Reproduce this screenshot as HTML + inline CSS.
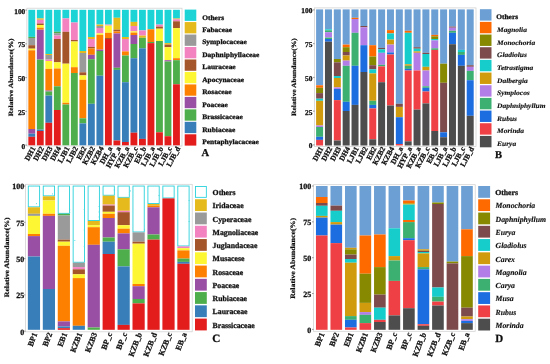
<!DOCTYPE html>
<html><head><meta charset="utf-8"><style>
html,body{margin:0;padding:0;background:#fff;width:550px;height:364px;overflow:hidden}
svg{display:block;will-change:transform}
text{font-family:"Liberation Serif", serif;text-rendering:geometricPrecision;stroke:#111;stroke-width:0.28px}
</style></head><body>
<svg width="550" height="364" viewBox="0 0 550 364">
<defs><filter id="bl" x="0" y="0" width="550" height="364" filterUnits="userSpaceOnUse"><feGaussianBlur stdDeviation="0.45"/></filter></defs>
<g filter="url(#bl)">
<rect x="0" y="0" width="550" height="364" fill="#fff"/>
<rect x="26.9" y="8.2" width="155.1" height="137.8" fill="none" stroke="#d0d0d0" stroke-width="0.75"/>
<rect x="28.35" y="9.8" width="6.85" height="27.1" fill="#1fd3d6"/>
<rect x="28.35" y="36.9" width="6.85" height="1.1" fill="#4eae4b"/>
<rect x="28.35" y="38" width="6.85" height="7.2" fill="#9a9a9a"/>
<rect x="28.35" y="45.2" width="6.85" height="3.5" fill="#a5552a"/>
<rect x="28.35" y="48.7" width="6.85" height="1.6" fill="#fdf632"/>
<rect x="28.35" y="50.3" width="6.85" height="78.7" fill="#fd8003"/>
<rect x="28.35" y="129" width="6.85" height="4.7" fill="#994fa4"/>
<rect x="28.35" y="133.7" width="6.85" height="3.1" fill="#387eb9"/>
<rect x="28.35" y="136.8" width="6.85" height="8.5" fill="#e31b1d"/>
<text x="0" y="0" transform="translate(35.78,148.3) rotate(-62)" text-anchor="end" font-size="7.4" font-weight="bold" fill="#111">DH1</text>
<rect x="36.86" y="9.8" width="6.85" height="8.6" fill="#1fd3d6"/>
<rect x="36.86" y="18.4" width="6.85" height="1.4" fill="#e5ba1d"/>
<rect x="36.86" y="19.8" width="6.85" height="3.7" fill="#f282c0"/>
<rect x="36.86" y="23.5" width="6.85" height="1.5" fill="#a5552a"/>
<rect x="36.86" y="25" width="6.85" height="2.7" fill="#fdf632"/>
<rect x="36.86" y="27.7" width="6.85" height="2" fill="#fd8003"/>
<rect x="36.86" y="29.7" width="6.85" height="29.9" fill="#994fa4"/>
<rect x="36.86" y="59.6" width="6.85" height="70" fill="#4eae4b"/>
<rect x="36.86" y="129.6" width="6.85" height="1.4" fill="#387eb9"/>
<rect x="36.86" y="131" width="6.85" height="14.3" fill="#e31b1d"/>
<text x="0" y="0" transform="translate(44.29,148.3) rotate(-62)" text-anchor="end" font-size="7.4" font-weight="bold" fill="#111">DH2</text>
<rect x="45.37" y="9.8" width="6.85" height="44.2" fill="#1fd3d6"/>
<rect x="45.37" y="54" width="6.85" height="1" fill="#e5ba1d"/>
<rect x="45.37" y="55" width="6.85" height="4.6" fill="#9a9a9a"/>
<rect x="45.37" y="59.6" width="6.85" height="1.4" fill="#f282c0"/>
<rect x="45.37" y="61" width="6.85" height="7.9" fill="#fdf632"/>
<rect x="45.37" y="68.9" width="6.85" height="21.6" fill="#fd8003"/>
<rect x="45.37" y="90.5" width="6.85" height="1" fill="#994fa4"/>
<rect x="45.37" y="91.5" width="6.85" height="4.1" fill="#4eae4b"/>
<rect x="45.37" y="95.6" width="6.85" height="27.2" fill="#387eb9"/>
<rect x="45.37" y="122.8" width="6.85" height="22.5" fill="#e31b1d"/>
<text x="0" y="0" transform="translate(52.8,148.3) rotate(-62)" text-anchor="end" font-size="7.4" font-weight="bold" fill="#111">DH3</text>
<rect x="53.89" y="9.8" width="6.85" height="22" fill="#1fd3d6"/>
<rect x="53.89" y="31.8" width="6.85" height="1.4" fill="#4eae4b"/>
<rect x="53.89" y="33.2" width="6.85" height="2.3" fill="#9a9a9a"/>
<rect x="53.89" y="35.5" width="6.85" height="3.5" fill="#f282c0"/>
<rect x="53.89" y="39" width="6.85" height="23.3" fill="#a5552a"/>
<rect x="53.89" y="62.3" width="6.85" height="6.2" fill="#fdf632"/>
<rect x="53.89" y="68.5" width="6.85" height="17.8" fill="#fd8003"/>
<rect x="53.89" y="86.3" width="6.85" height="23.7" fill="#4eae4b"/>
<rect x="53.89" y="110" width="6.85" height="35.3" fill="#e31b1d"/>
<text x="0" y="0" transform="translate(61.31,148.3) rotate(-62)" text-anchor="end" font-size="7.4" font-weight="bold" fill="#111">DH4</text>
<rect x="62.4" y="9.8" width="6.85" height="8.6" fill="#1fd3d6"/>
<rect x="62.4" y="18.4" width="6.85" height="13.4" fill="#f282c0"/>
<rect x="62.4" y="31.8" width="6.85" height="31.9" fill="#a5552a"/>
<rect x="62.4" y="63.7" width="6.85" height="39.1" fill="#fdf632"/>
<rect x="62.4" y="102.8" width="6.85" height="1.7" fill="#fd8003"/>
<rect x="62.4" y="104.5" width="6.85" height="40.8" fill="#4eae4b"/>
<text x="0" y="0" transform="translate(69.82,148.3) rotate(-62)" text-anchor="end" font-size="7.4" font-weight="bold" fill="#111">LJB1</text>
<rect x="70.91" y="9.8" width="6.85" height="12.7" fill="#1fd3d6"/>
<rect x="70.91" y="22.5" width="6.85" height="17.5" fill="#f282c0"/>
<rect x="70.91" y="40" width="6.85" height="1.5" fill="#a5552a"/>
<rect x="70.91" y="41.5" width="6.85" height="25.7" fill="#fdf632"/>
<rect x="70.91" y="67.2" width="6.85" height="5.8" fill="#fd8003"/>
<rect x="70.91" y="73" width="6.85" height="72.3" fill="#4eae4b"/>
<text x="0" y="0" transform="translate(78.33,148.3) rotate(-62)" text-anchor="end" font-size="7.4" font-weight="bold" fill="#111">LJB2</text>
<rect x="79.42" y="9.8" width="6.85" height="41.2" fill="#1fd3d6"/>
<rect x="79.42" y="51" width="6.85" height="2" fill="#e5ba1d"/>
<rect x="79.42" y="53" width="6.85" height="19.3" fill="#9a9a9a"/>
<rect x="79.42" y="72.3" width="6.85" height="3.1" fill="#a5552a"/>
<rect x="79.42" y="75.4" width="6.85" height="4.4" fill="#fdf632"/>
<rect x="79.42" y="79.8" width="6.85" height="38.5" fill="#fd8003"/>
<rect x="79.42" y="118.3" width="6.85" height="5.1" fill="#4eae4b"/>
<rect x="79.42" y="123.4" width="6.85" height="21.9" fill="#387eb9"/>
<text x="0" y="0" transform="translate(86.85,148.3) rotate(-62)" text-anchor="end" font-size="7.4" font-weight="bold" fill="#111">EB2</text>
<rect x="87.93" y="9.8" width="6.85" height="27.2" fill="#1fd3d6"/>
<rect x="87.93" y="37" width="6.85" height="2" fill="#e5ba1d"/>
<rect x="87.93" y="39" width="6.85" height="7.9" fill="#f282c0"/>
<rect x="87.93" y="46.9" width="6.85" height="1.6" fill="#a5552a"/>
<rect x="87.93" y="48.5" width="6.85" height="6.3" fill="#fd8003"/>
<rect x="87.93" y="54.8" width="6.85" height="4.4" fill="#994fa4"/>
<rect x="87.93" y="59.2" width="6.85" height="44.6" fill="#4eae4b"/>
<rect x="87.93" y="103.8" width="6.85" height="41.5" fill="#387eb9"/>
<text x="0" y="0" transform="translate(95.36,148.3) rotate(-62)" text-anchor="end" font-size="7.4" font-weight="bold" fill="#111">KZB2</text>
<rect x="96.45" y="9.8" width="6.85" height="14.8" fill="#1fd3d6"/>
<rect x="96.45" y="24.6" width="6.85" height="1.4" fill="#e5ba1d"/>
<rect x="96.45" y="26" width="6.85" height="2" fill="#9a9a9a"/>
<rect x="96.45" y="28" width="6.85" height="5.4" fill="#f282c0"/>
<rect x="96.45" y="33.4" width="6.85" height="1.5" fill="#fdf632"/>
<rect x="96.45" y="34.9" width="6.85" height="14.7" fill="#fd8003"/>
<rect x="96.45" y="49.6" width="6.85" height="1.4" fill="#994fa4"/>
<rect x="96.45" y="51" width="6.85" height="24.7" fill="#4eae4b"/>
<rect x="96.45" y="75.7" width="6.85" height="69.6" fill="#387eb9"/>
<text x="0" y="0" transform="translate(103.87,148.3) rotate(-62)" text-anchor="end" font-size="7.4" font-weight="bold" fill="#111">KZB4</text>
<rect x="104.96" y="9.8" width="6.85" height="14.8" fill="#1fd3d6"/>
<rect x="104.96" y="24.6" width="6.85" height="1" fill="#f282c0"/>
<rect x="104.96" y="25.6" width="6.85" height="7.2" fill="#fdf632"/>
<rect x="104.96" y="32.8" width="6.85" height="5.2" fill="#fd8003"/>
<rect x="104.96" y="38" width="6.85" height="1" fill="#a5552a"/>
<rect x="104.96" y="39" width="6.85" height="106.3" fill="#e31b1d"/>
<text x="0" y="0" transform="translate(112.38,148.3) rotate(-62)" text-anchor="end" font-size="7.4" font-weight="bold" fill="#111">DH_a</text>
<rect x="113.47" y="9.8" width="6.85" height="8" fill="#1fd3d6"/>
<rect x="113.47" y="17.8" width="6.85" height="11.9" fill="#e5ba1d"/>
<rect x="113.47" y="29.7" width="6.85" height="1.7" fill="#a5552a"/>
<rect x="113.47" y="31.4" width="6.85" height="2" fill="#fd8003"/>
<rect x="113.47" y="33.4" width="6.85" height="34.4" fill="#994fa4"/>
<rect x="113.47" y="67.8" width="6.85" height="2.1" fill="#4eae4b"/>
<rect x="113.47" y="69.9" width="6.85" height="70.6" fill="#387eb9"/>
<rect x="113.47" y="140.5" width="6.85" height="4.8" fill="#e31b1d"/>
<text x="0" y="0" transform="translate(120.89,148.3) rotate(-62)" text-anchor="end" font-size="7.4" font-weight="bold" fill="#111">HYP_a</text>
<rect x="121.98" y="9.8" width="6.85" height="27.2" fill="#1fd3d6"/>
<rect x="121.98" y="37" width="6.85" height="2" fill="#e5ba1d"/>
<rect x="121.98" y="39" width="6.85" height="12.4" fill="#f282c0"/>
<rect x="121.98" y="51.4" width="6.85" height="4.1" fill="#fd8003"/>
<rect x="121.98" y="55.5" width="6.85" height="26.7" fill="#4eae4b"/>
<rect x="121.98" y="82.2" width="6.85" height="59.8" fill="#387eb9"/>
<rect x="121.98" y="142" width="6.85" height="3.3" fill="#e31b1d"/>
<text x="0" y="0" transform="translate(129.41,148.3) rotate(-62)" text-anchor="end" font-size="7.4" font-weight="bold" fill="#111">KZB_a</text>
<rect x="130.49" y="9.8" width="6.85" height="12.1" fill="#1fd3d6"/>
<rect x="130.49" y="21.9" width="6.85" height="4.1" fill="#e5ba1d"/>
<rect x="130.49" y="26" width="6.85" height="5.3" fill="#f282c0"/>
<rect x="130.49" y="31.3" width="6.85" height="1.3" fill="#fdf632"/>
<rect x="130.49" y="32.6" width="6.85" height="2.4" fill="#fd8003"/>
<rect x="130.49" y="35" width="6.85" height="9" fill="#994fa4"/>
<rect x="130.49" y="44" width="6.85" height="14.2" fill="#4eae4b"/>
<rect x="130.49" y="58.2" width="6.85" height="74.5" fill="#387eb9"/>
<rect x="130.49" y="132.7" width="6.85" height="12.6" fill="#e31b1d"/>
<text x="0" y="0" transform="translate(137.92,148.3) rotate(-62)" text-anchor="end" font-size="7.4" font-weight="bold" fill="#111">KZB_c</text>
<rect x="139.01" y="9.8" width="6.85" height="20.6" fill="#1fd3d6"/>
<rect x="139.01" y="30.4" width="6.85" height="5.2" fill="#f282c0"/>
<rect x="139.01" y="35.6" width="6.85" height="2.2" fill="#e5ba1d"/>
<rect x="139.01" y="37.8" width="6.85" height="10.5" fill="#4eae4b"/>
<rect x="139.01" y="48.3" width="6.85" height="90.6" fill="#387eb9"/>
<rect x="139.01" y="138.9" width="6.85" height="6.4" fill="#e31b1d"/>
<text x="0" y="0" transform="translate(146.43,148.3) rotate(-62)" text-anchor="end" font-size="7.4" font-weight="bold" fill="#111">EB_b</text>
<rect x="147.52" y="9.8" width="6.85" height="19.5" fill="#1fd3d6"/>
<rect x="147.52" y="29.3" width="6.85" height="12.7" fill="#fd8003"/>
<rect x="147.52" y="42" width="6.85" height="1.1" fill="#4eae4b"/>
<rect x="147.52" y="43.1" width="6.85" height="102.2" fill="#e31b1d"/>
<text x="0" y="0" transform="translate(154.94,148.3) rotate(-62)" text-anchor="end" font-size="7.4" font-weight="bold" fill="#111">LJB_a</text>
<rect x="156.03" y="9.8" width="6.85" height="14.8" fill="#1fd3d6"/>
<rect x="156.03" y="24.6" width="6.85" height="2" fill="#f282c0"/>
<rect x="156.03" y="26.6" width="6.85" height="2.1" fill="#a5552a"/>
<rect x="156.03" y="28.7" width="6.85" height="12.3" fill="#fdf632"/>
<rect x="156.03" y="41" width="6.85" height="91.3" fill="#4eae4b"/>
<rect x="156.03" y="132.3" width="6.85" height="13" fill="#e31b1d"/>
<text x="0" y="0" transform="translate(163.46,148.3) rotate(-62)" text-anchor="end" font-size="7.4" font-weight="bold" fill="#111">LJB_b</text>
<rect x="164.54" y="9.8" width="6.85" height="33.3" fill="#1fd3d6"/>
<rect x="164.54" y="43.1" width="6.85" height="1.5" fill="#e5ba1d"/>
<rect x="164.54" y="44.6" width="6.85" height="2.6" fill="#a5552a"/>
<rect x="164.54" y="47.2" width="6.85" height="13" fill="#fdf632"/>
<rect x="164.54" y="60.2" width="6.85" height="1.3" fill="#994fa4"/>
<rect x="164.54" y="61.5" width="6.85" height="74.7" fill="#4eae4b"/>
<rect x="164.54" y="136.2" width="6.85" height="9.1" fill="#e31b1d"/>
<text x="0" y="0" transform="translate(171.97,148.3) rotate(-62)" text-anchor="end" font-size="7.4" font-weight="bold" fill="#111">LJB_c</text>
<rect x="173.05" y="9.8" width="6.85" height="8.7" fill="#1fd3d6"/>
<rect x="173.05" y="18.5" width="6.85" height="0.8" fill="#e5ba1d"/>
<rect x="173.05" y="19.3" width="6.85" height="2" fill="#f282c0"/>
<rect x="173.05" y="21.3" width="6.85" height="6.8" fill="#a5552a"/>
<rect x="173.05" y="28.1" width="6.85" height="30.1" fill="#fdf632"/>
<rect x="173.05" y="58.2" width="6.85" height="2" fill="#fd8003"/>
<rect x="173.05" y="60.2" width="6.85" height="24.1" fill="#4eae4b"/>
<rect x="173.05" y="84.3" width="6.85" height="61" fill="#e31b1d"/>
<text x="0" y="0" transform="translate(180.48,148.3) rotate(-62)" text-anchor="end" font-size="7.4" font-weight="bold" fill="#111">LJB_d</text>
<text x="25.3" y="148.5" text-anchor="end" font-size="7.4" font-weight="bold" fill="#111">0</text>
<line x1="25.3" y1="145.1" x2="26.9" y2="145.1" stroke="#555" stroke-width="0.6"/>
<text x="25.3" y="114.75" text-anchor="end" font-size="7.4" font-weight="bold" fill="#111">25</text>
<line x1="25.3" y1="111.35" x2="26.9" y2="111.35" stroke="#555" stroke-width="0.6"/>
<text x="25.3" y="81" text-anchor="end" font-size="7.4" font-weight="bold" fill="#111">50</text>
<line x1="25.3" y1="77.6" x2="26.9" y2="77.6" stroke="#555" stroke-width="0.6"/>
<text x="25.3" y="47.25" text-anchor="end" font-size="7.4" font-weight="bold" fill="#111">75</text>
<line x1="25.3" y1="43.85" x2="26.9" y2="43.85" stroke="#555" stroke-width="0.6"/>
<text x="25.3" y="13.5" text-anchor="end" font-size="7.4" font-weight="bold" fill="#111">100</text>
<line x1="25.3" y1="10.1" x2="26.9" y2="10.1" stroke="#555" stroke-width="0.6"/>
<text x="0" y="0" transform="translate(13.4,77.4) rotate(-90) scale(1,0.86)" text-anchor="middle" font-size="7.6" font-weight="bold" fill="#111" style="stroke-width:0.24px">Relative Abundance(%)</text>
<rect x="184.7" y="9.6" width="11.6" height="11.3" fill="#1fd3d6"/>
<text x="0" y="0" transform="translate(202.2,19.55) scale(1.08,1)" font-size="6.9" font-weight="bold" fill="#111">Others</text>
<rect x="184.7" y="22.07" width="11.6" height="11.3" fill="#e5ba1d"/>
<text x="0" y="0" transform="translate(202.2,32.02) scale(1.08,1)" font-size="6.9" font-weight="bold" fill="#111">Fabaceae</text>
<rect x="184.7" y="34.54" width="11.6" height="11.3" fill="#9a9a9a"/>
<text x="0" y="0" transform="translate(202.2,44.49) scale(1.08,1)" font-size="6.9" font-weight="bold" fill="#111">Symplocaceae</text>
<rect x="184.7" y="47.01" width="11.6" height="11.3" fill="#f282c0"/>
<text x="0" y="0" transform="translate(202.2,56.96) scale(1.08,1)" font-size="6.9" font-weight="bold" fill="#111">Daphniphyllaceae</text>
<rect x="184.7" y="59.48" width="11.6" height="11.3" fill="#a5552a"/>
<text x="0" y="0" transform="translate(202.2,69.43) scale(1.08,1)" font-size="6.9" font-weight="bold" fill="#111">Lauraceae</text>
<rect x="184.7" y="71.95" width="11.6" height="11.3" fill="#fdf632"/>
<text x="0" y="0" transform="translate(202.2,81.9) scale(1.08,1)" font-size="6.9" font-weight="bold" fill="#111">Apocynaceae</text>
<rect x="184.7" y="84.42" width="11.6" height="11.3" fill="#fd8003"/>
<text x="0" y="0" transform="translate(202.2,94.37) scale(1.08,1)" font-size="6.9" font-weight="bold" fill="#111">Rosaceae</text>
<rect x="184.7" y="96.89" width="11.6" height="11.3" fill="#994fa4"/>
<text x="0" y="0" transform="translate(202.2,106.84) scale(1.08,1)" font-size="6.9" font-weight="bold" fill="#111">Poaceae</text>
<rect x="184.7" y="109.36" width="11.6" height="11.3" fill="#4eae4b"/>
<text x="0" y="0" transform="translate(202.2,119.31) scale(1.08,1)" font-size="6.9" font-weight="bold" fill="#111">Brassicaceae</text>
<rect x="184.7" y="121.83" width="11.6" height="11.3" fill="#387eb9"/>
<text x="0" y="0" transform="translate(202.2,131.78) scale(1.08,1)" font-size="6.9" font-weight="bold" fill="#111">Rubiaceae</text>
<rect x="184.7" y="134.3" width="11.6" height="11.3" fill="#e31b1d"/>
<text x="0" y="0" transform="translate(202.2,144.25) scale(1.08,1)" font-size="6.9" font-weight="bold" fill="#111">Pentaphylacaceae</text>
<text x="201.6" y="156.2" font-size="10.5" font-weight="bold" fill="#111">A</text>
<rect x="314.6" y="7.9" width="161.4" height="138.5" fill="none" stroke="#d0d0d0" stroke-width="0.75"/>
<rect x="316.1" y="9.4" width="7" height="75.9" fill="#6c9fd4"/>
<rect x="316.1" y="85.3" width="7" height="2.5" fill="#fe6a02"/>
<rect x="316.1" y="87.8" width="7" height="5.3" fill="#878a05"/>
<rect x="316.1" y="93.1" width="7" height="5.6" fill="#7e4c4e"/>
<rect x="316.1" y="98.7" width="7" height="2.1" fill="#12cdcc"/>
<rect x="316.1" y="100.8" width="7" height="24.7" fill="#d09b0c"/>
<rect x="316.1" y="125.5" width="7" height="1.5" fill="#b27de6"/>
<rect x="316.1" y="127" width="7" height="9.8" fill="#3ab070"/>
<rect x="316.1" y="136.8" width="7" height="3.1" fill="#1f6de0"/>
<rect x="316.1" y="139.9" width="7" height="5.6" fill="#ef4144"/>
<text x="0" y="0" transform="translate(323.6,148.5) rotate(-62)" text-anchor="end" font-size="7.4" font-weight="bold" fill="#111">DH1</text>
<rect x="324.96" y="9.4" width="7" height="19.9" fill="#6c9fd4"/>
<rect x="324.96" y="29.3" width="7" height="1" fill="#12cdcc"/>
<rect x="324.96" y="30.3" width="7" height="1.9" fill="#3ab070"/>
<rect x="324.96" y="32.2" width="7" height="5.4" fill="#b27de6"/>
<rect x="324.96" y="37.6" width="7" height="1.4" fill="#3ab070"/>
<rect x="324.96" y="39" width="7" height="2.7" fill="#1f6de0"/>
<rect x="324.96" y="41.7" width="7" height="103.8" fill="#4e4e4e"/>
<text x="0" y="0" transform="translate(332.46,148.5) rotate(-62)" text-anchor="end" font-size="7.4" font-weight="bold" fill="#111">DH2</text>
<rect x="333.82" y="9.4" width="7" height="49.6" fill="#6c9fd4"/>
<rect x="333.82" y="59" width="7" height="3.3" fill="#878a05"/>
<rect x="333.82" y="62.3" width="7" height="13.7" fill="#7e4c4e"/>
<rect x="333.82" y="76" width="7" height="2" fill="#12cdcc"/>
<rect x="333.82" y="78" width="7" height="9.4" fill="#d09b0c"/>
<rect x="333.82" y="87.4" width="7" height="1.6" fill="#b27de6"/>
<rect x="333.82" y="89" width="7" height="11.1" fill="#1f6de0"/>
<rect x="333.82" y="100.1" width="7" height="40.4" fill="#ef4144"/>
<rect x="333.82" y="140.5" width="7" height="5" fill="#4e4e4e"/>
<text x="0" y="0" transform="translate(341.32,148.5) rotate(-62)" text-anchor="end" font-size="7.4" font-weight="bold" fill="#111">DH3</text>
<rect x="342.67" y="9.4" width="7" height="35.2" fill="#6c9fd4"/>
<rect x="342.67" y="44.6" width="7" height="2.6" fill="#fe6a02"/>
<rect x="342.67" y="47.2" width="7" height="4.8" fill="#878a05"/>
<rect x="342.67" y="52" width="7" height="3.5" fill="#7e4c4e"/>
<rect x="342.67" y="55.5" width="7" height="5.1" fill="#d09b0c"/>
<rect x="342.67" y="60.6" width="7" height="5.2" fill="#b27de6"/>
<rect x="342.67" y="65.8" width="7" height="36" fill="#3ab070"/>
<rect x="342.67" y="101.8" width="7" height="9.2" fill="#1f6de0"/>
<rect x="342.67" y="111" width="7" height="34.5" fill="#4e4e4e"/>
<text x="0" y="0" transform="translate(350.17,148.5) rotate(-62)" text-anchor="end" font-size="7.4" font-weight="bold" fill="#111">DH4</text>
<rect x="351.53" y="9.4" width="7" height="8.4" fill="#6c9fd4"/>
<rect x="351.53" y="17.8" width="7" height="1.2" fill="#fe6a02"/>
<rect x="351.53" y="19" width="7" height="13.8" fill="#b27de6"/>
<rect x="351.53" y="32.8" width="7" height="33" fill="#3ab070"/>
<rect x="351.53" y="65.8" width="7" height="39.1" fill="#1f6de0"/>
<rect x="351.53" y="104.9" width="7" height="40.6" fill="#4e4e4e"/>
<text x="0" y="0" transform="translate(359.03,148.5) rotate(-62)" text-anchor="end" font-size="7.4" font-weight="bold" fill="#111">LJB1</text>
<rect x="360.39" y="9.4" width="7" height="16.6" fill="#6c9fd4"/>
<rect x="360.39" y="26" width="7" height="1.3" fill="#7e4c4e"/>
<rect x="360.39" y="27.3" width="7" height="17.9" fill="#b27de6"/>
<rect x="360.39" y="45.2" width="7" height="26.8" fill="#1f6de0"/>
<rect x="360.39" y="72" width="7" height="73.5" fill="#4e4e4e"/>
<text x="0" y="0" transform="translate(367.89,148.5) rotate(-62)" text-anchor="end" font-size="7.4" font-weight="bold" fill="#111">LJB2</text>
<rect x="369.25" y="9.4" width="7" height="35.8" fill="#6c9fd4"/>
<rect x="369.25" y="45.2" width="7" height="11.3" fill="#fe6a02"/>
<rect x="369.25" y="56.5" width="7" height="8.7" fill="#878a05"/>
<rect x="369.25" y="65.2" width="7" height="4.1" fill="#7e4c4e"/>
<rect x="369.25" y="69.3" width="7" height="4.1" fill="#12cdcc"/>
<rect x="369.25" y="73.4" width="7" height="27.4" fill="#d09b0c"/>
<rect x="369.25" y="100.8" width="7" height="4.1" fill="#3ab070"/>
<rect x="369.25" y="104.9" width="7" height="3.5" fill="#1f6de0"/>
<rect x="369.25" y="108.4" width="7" height="30.9" fill="#ef4144"/>
<rect x="369.25" y="139.3" width="7" height="6.2" fill="#4e4e4e"/>
<text x="0" y="0" transform="translate(376.75,148.5) rotate(-62)" text-anchor="end" font-size="7.4" font-weight="bold" fill="#111">EB2</text>
<rect x="378.11" y="9.4" width="7" height="38.5" fill="#6c9fd4"/>
<rect x="378.11" y="47.9" width="7" height="1.4" fill="#7e4c4e"/>
<rect x="378.11" y="49.3" width="7" height="3.5" fill="#12cdcc"/>
<rect x="378.11" y="52.8" width="7" height="12" fill="#b27de6"/>
<rect x="378.11" y="64.8" width="7" height="1.6" fill="#3ab070"/>
<rect x="378.11" y="66.4" width="7" height="15.8" fill="#ef4144"/>
<rect x="378.11" y="82.2" width="7" height="63.3" fill="#4e4e4e"/>
<text x="0" y="0" transform="translate(385.61,148.5) rotate(-62)" text-anchor="end" font-size="7.4" font-weight="bold" fill="#111">KZB2</text>
<rect x="386.96" y="9.4" width="7" height="20.7" fill="#6c9fd4"/>
<rect x="386.96" y="30.1" width="7" height="3.3" fill="#fe6a02"/>
<rect x="386.96" y="33.4" width="7" height="6.2" fill="#12cdcc"/>
<rect x="386.96" y="39.6" width="7" height="5" fill="#d09b0c"/>
<rect x="386.96" y="44.6" width="7" height="7.8" fill="#b27de6"/>
<rect x="386.96" y="52.4" width="7" height="2.1" fill="#1f6de0"/>
<rect x="386.96" y="54.5" width="7" height="51" fill="#ef4144"/>
<rect x="386.96" y="105.5" width="7" height="40" fill="#4e4e4e"/>
<text x="0" y="0" transform="translate(394.46,148.5) rotate(-62)" text-anchor="end" font-size="7.4" font-weight="bold" fill="#111">KZB4</text>
<rect x="395.82" y="9.4" width="7" height="94.4" fill="#6c9fd4"/>
<rect x="395.82" y="103.8" width="7" height="3.1" fill="#7e4c4e"/>
<rect x="395.82" y="106.9" width="7" height="10.3" fill="#d09b0c"/>
<rect x="395.82" y="117.2" width="7" height="26.8" fill="#1f6de0"/>
<rect x="395.82" y="144" width="7" height="1.5" fill="#ef4144"/>
<text x="0" y="0" transform="translate(403.32,148.5) rotate(-62)" text-anchor="end" font-size="7.4" font-weight="bold" fill="#111">DH_a</text>
<rect x="404.68" y="9.4" width="7" height="21.4" fill="#6c9fd4"/>
<rect x="404.68" y="30.8" width="7" height="2" fill="#fe6a02"/>
<rect x="404.68" y="32.8" width="7" height="31.5" fill="#12cdcc"/>
<rect x="404.68" y="64.3" width="7" height="1.5" fill="#d09b0c"/>
<rect x="404.68" y="65.8" width="7" height="3.1" fill="#3ab070"/>
<rect x="404.68" y="68.9" width="7" height="1.6" fill="#1f6de0"/>
<rect x="404.68" y="70.5" width="7" height="70.8" fill="#ef4144"/>
<rect x="404.68" y="141.3" width="7" height="4.2" fill="#4e4e4e"/>
<text x="0" y="0" transform="translate(412.18,148.5) rotate(-62)" text-anchor="end" font-size="7.4" font-weight="bold" fill="#111">HYP_a</text>
<rect x="413.54" y="9.4" width="7" height="37.8" fill="#6c9fd4"/>
<rect x="413.54" y="47.2" width="7" height="1.5" fill="#7e4c4e"/>
<rect x="413.54" y="48.7" width="7" height="2.7" fill="#12cdcc"/>
<rect x="413.54" y="51.4" width="7" height="1.4" fill="#d09b0c"/>
<rect x="413.54" y="52.8" width="7" height="17.7" fill="#b27de6"/>
<rect x="413.54" y="70.5" width="7" height="39.1" fill="#ef4144"/>
<rect x="413.54" y="109.6" width="7" height="35.9" fill="#4e4e4e"/>
<text x="0" y="0" transform="translate(421.04,148.5) rotate(-62)" text-anchor="end" font-size="7.4" font-weight="bold" fill="#111">KZB_a</text>
<rect x="422.4" y="9.4" width="7" height="43.4" fill="#6c9fd4"/>
<rect x="422.4" y="52.8" width="7" height="1.2" fill="#7e4c4e"/>
<rect x="422.4" y="54" width="7" height="12.8" fill="#12cdcc"/>
<rect x="422.4" y="66.8" width="7" height="3.7" fill="#d09b0c"/>
<rect x="422.4" y="70.5" width="7" height="15.8" fill="#b27de6"/>
<rect x="422.4" y="86.3" width="7" height="1.5" fill="#3ab070"/>
<rect x="422.4" y="87.8" width="7" height="3.7" fill="#1f6de0"/>
<rect x="422.4" y="91.5" width="7" height="11.9" fill="#ef4144"/>
<rect x="422.4" y="103.4" width="7" height="42.1" fill="#4e4e4e"/>
<text x="0" y="0" transform="translate(429.9,148.5) rotate(-62)" text-anchor="end" font-size="7.4" font-weight="bold" fill="#111">KZB_c</text>
<rect x="431.25" y="9.4" width="7" height="25.5" fill="#6c9fd4"/>
<rect x="431.25" y="34.9" width="7" height="1.4" fill="#fe6a02"/>
<rect x="431.25" y="36.3" width="7" height="2.7" fill="#878a05"/>
<rect x="431.25" y="39" width="7" height="1.4" fill="#12cdcc"/>
<rect x="431.25" y="40.4" width="7" height="7.9" fill="#b27de6"/>
<rect x="431.25" y="48.3" width="7" height="1.6" fill="#3ab070"/>
<rect x="431.25" y="49.9" width="7" height="81.1" fill="#ef4144"/>
<rect x="431.25" y="131" width="7" height="14.5" fill="#4e4e4e"/>
<text x="0" y="0" transform="translate(438.75,148.5) rotate(-62)" text-anchor="end" font-size="7.4" font-weight="bold" fill="#111">EB_b</text>
<rect x="440.11" y="9.4" width="7" height="54.3" fill="#6c9fd4"/>
<rect x="440.11" y="63.7" width="7" height="19.1" fill="#878a05"/>
<rect x="440.11" y="82.8" width="7" height="49.5" fill="#7e4c4e"/>
<rect x="440.11" y="132.3" width="7" height="4.9" fill="#1f6de0"/>
<rect x="440.11" y="137.2" width="7" height="8.3" fill="#4e4e4e"/>
<text x="0" y="0" transform="translate(447.61,148.5) rotate(-62)" text-anchor="end" font-size="7.4" font-weight="bold" fill="#111">LJB_a</text>
<rect x="448.97" y="9.4" width="7" height="17.2" fill="#6c9fd4"/>
<rect x="448.97" y="26.6" width="7" height="1.1" fill="#7e4c4e"/>
<rect x="448.97" y="27.7" width="7" height="3.1" fill="#b27de6"/>
<rect x="448.97" y="30.8" width="7" height="2" fill="#3ab070"/>
<rect x="448.97" y="32.8" width="7" height="11.4" fill="#1f6de0"/>
<rect x="448.97" y="44.2" width="7" height="101.3" fill="#4e4e4e"/>
<text x="0" y="0" transform="translate(456.47,148.5) rotate(-62)" text-anchor="end" font-size="7.4" font-weight="bold" fill="#111">LJB_b</text>
<rect x="457.83" y="9.4" width="7" height="40.5" fill="#6c9fd4"/>
<rect x="457.83" y="49.9" width="7" height="2.1" fill="#12cdcc"/>
<rect x="457.83" y="52" width="7" height="2.9" fill="#3ab070"/>
<rect x="457.83" y="54.9" width="7" height="10.9" fill="#1f6de0"/>
<rect x="457.83" y="65.8" width="7" height="79.7" fill="#4e4e4e"/>
<text x="0" y="0" transform="translate(465.33,148.5) rotate(-62)" text-anchor="end" font-size="7.4" font-weight="bold" fill="#111">LJB_c</text>
<rect x="466.69" y="9.4" width="7" height="55.8" fill="#6c9fd4"/>
<rect x="466.69" y="65.2" width="7" height="1.6" fill="#7e4c4e"/>
<rect x="466.69" y="66.8" width="7" height="4.1" fill="#b27de6"/>
<rect x="466.69" y="70.9" width="7" height="9.3" fill="#3ab070"/>
<rect x="466.69" y="80.2" width="7" height="35.6" fill="#1f6de0"/>
<rect x="466.69" y="115.8" width="7" height="29.7" fill="#4e4e4e"/>
<text x="0" y="0" transform="translate(474.19,148.5) rotate(-62)" text-anchor="end" font-size="7.4" font-weight="bold" fill="#111">LJB_d</text>
<text x="312.4" y="148.3" text-anchor="end" font-size="7.4" font-weight="bold" fill="#111">0</text>
<line x1="313" y1="144.9" x2="314.6" y2="144.9" stroke="#555" stroke-width="0.6"/>
<text x="312.4" y="114.55" text-anchor="end" font-size="7.4" font-weight="bold" fill="#111">25</text>
<line x1="313" y1="111.15" x2="314.6" y2="111.15" stroke="#555" stroke-width="0.6"/>
<text x="312.4" y="80.8" text-anchor="end" font-size="7.4" font-weight="bold" fill="#111">50</text>
<line x1="313" y1="77.4" x2="314.6" y2="77.4" stroke="#555" stroke-width="0.6"/>
<text x="312.4" y="47.05" text-anchor="end" font-size="7.4" font-weight="bold" fill="#111">75</text>
<line x1="313" y1="43.65" x2="314.6" y2="43.65" stroke="#555" stroke-width="0.6"/>
<text x="312.4" y="13.3" text-anchor="end" font-size="7.4" font-weight="bold" fill="#111">100</text>
<line x1="313" y1="9.9" x2="314.6" y2="9.9" stroke="#555" stroke-width="0.6"/>
<text x="0" y="0" transform="translate(296.3,77.1) rotate(-90) scale(1,0.86)" text-anchor="middle" font-size="7.6" font-weight="bold" fill="#111" style="stroke-width:0.24px">Relative Abundance(%)</text>
<rect x="479.9" y="9.2" width="11.6" height="11.4" fill="#6c9fd4"/>
<text x="0" y="0" transform="translate(496.2,19.2) scale(1.08,1)" font-size="6.9" font-weight="bold" fill="#111">Others</text>
<rect x="479.9" y="21.87" width="11.6" height="11.4" fill="#fe6a02"/>
<text x="0" y="0" transform="translate(497.1,31.87) scale(1.08,1)" font-size="6.9" font-weight="bold" font-style="italic" style="stroke-width:0.15px" fill="#111">Magnolia</text>
<rect x="479.9" y="34.54" width="11.6" height="11.4" fill="#878a05"/>
<text x="0" y="0" transform="translate(497.1,44.54) scale(1.08,1)" font-size="6.9" font-weight="bold" font-style="italic" style="stroke-width:0.15px" fill="#111">Monochoria</text>
<rect x="479.9" y="47.21" width="11.6" height="11.4" fill="#7e4c4e"/>
<text x="0" y="0" transform="translate(497.1,57.21) scale(1.08,1)" font-size="6.9" font-weight="bold" font-style="italic" style="stroke-width:0.15px" fill="#111">Gladiolus</text>
<rect x="479.9" y="59.88" width="11.6" height="11.4" fill="#12cdcc"/>
<text x="0" y="0" transform="translate(497.1,69.88) scale(1.08,1)" font-size="6.9" font-weight="bold" font-style="italic" style="stroke-width:0.15px" fill="#111">Tetrastigma</text>
<rect x="479.9" y="72.55" width="11.6" height="11.4" fill="#d09b0c"/>
<text x="0" y="0" transform="translate(497.1,82.55) scale(1.08,1)" font-size="6.9" font-weight="bold" font-style="italic" style="stroke-width:0.15px" fill="#111">Dalbergia</text>
<rect x="479.9" y="85.22" width="11.6" height="11.4" fill="#b27de6"/>
<text x="0" y="0" transform="translate(497.1,95.22) scale(1.08,1)" font-size="6.9" font-weight="bold" font-style="italic" style="stroke-width:0.15px" fill="#111">Symplocos</text>
<rect x="479.9" y="97.89" width="11.6" height="11.4" fill="#3ab070"/>
<text x="0" y="0" transform="translate(497.1,107.89) scale(1.08,1)" font-size="6.9" font-weight="bold" font-style="italic" style="stroke-width:0.15px" fill="#111">Daphniphyllum</text>
<rect x="479.9" y="110.56" width="11.6" height="11.4" fill="#1f6de0"/>
<text x="0" y="0" transform="translate(497.1,120.56) scale(1.08,1)" font-size="6.9" font-weight="bold" font-style="italic" style="stroke-width:0.15px" fill="#111">Rubus</text>
<rect x="479.9" y="123.23" width="11.6" height="11.4" fill="#ef4144"/>
<text x="0" y="0" transform="translate(497.1,133.23) scale(1.08,1)" font-size="6.9" font-weight="bold" font-style="italic" style="stroke-width:0.15px" fill="#111">Morinda</text>
<rect x="479.9" y="135.9" width="11.6" height="11.4" fill="#4e4e4e"/>
<text x="0" y="0" transform="translate(497.1,145.9) scale(1.08,1)" font-size="6.9" font-weight="bold" font-style="italic" style="stroke-width:0.15px" fill="#111">Eurya</text>
<text x="495" y="158.3" font-size="10.5" font-weight="bold" fill="#111">B</text>
<rect x="25.4" y="184.3" width="166.8" height="147.5" fill="none" stroke="#d0d0d0" stroke-width="0.75"/>
<rect x="28.3" y="186.05" width="11.3" height="20.8" fill="#fff" stroke="#2ad2dc" stroke-width="0.9"/>
<rect x="27.85" y="207.3" width="12.2" height="6.5" fill="#e5ba1d"/>
<rect x="27.85" y="213.8" width="12.2" height="2.1" fill="#9a9a9a"/>
<rect x="27.85" y="215.9" width="12.2" height="18.1" fill="#fdf632"/>
<rect x="27.85" y="234" width="12.2" height="2.1" fill="#fd8003"/>
<rect x="27.85" y="236.1" width="12.2" height="20.4" fill="#994fa4"/>
<rect x="27.85" y="256.5" width="12.2" height="73.3" fill="#387eb9"/>
<text x="0" y="0" transform="translate(37.45,333.8) rotate(-69)" text-anchor="end" font-size="7.9" font-weight="bold" fill="#111">BP1</text>
<rect x="43.25" y="186.05" width="11.3" height="9.8" fill="#fff" stroke="#2ad2dc" stroke-width="0.9"/>
<rect x="42.8" y="196.3" width="12.2" height="4.2" fill="#e5ba1d"/>
<rect x="42.8" y="200.5" width="12.2" height="13.3" fill="#fdf632"/>
<rect x="42.8" y="213.8" width="12.2" height="2.1" fill="#fd8003"/>
<rect x="42.8" y="215.9" width="12.2" height="73.1" fill="#994fa4"/>
<rect x="42.8" y="289" width="12.2" height="40.8" fill="#387eb9"/>
<text x="0" y="0" transform="translate(52.4,333.8) rotate(-69)" text-anchor="end" font-size="7.9" font-weight="bold" fill="#111">BP2</text>
<rect x="58.2" y="186.05" width="11.3" height="27.3" fill="#fff" stroke="#2ad2dc" stroke-width="0.9"/>
<rect x="57.75" y="213.8" width="12.2" height="1.7" fill="#4eae4b"/>
<rect x="57.75" y="215.5" width="12.2" height="24.1" fill="#9a9a9a"/>
<rect x="57.75" y="239.6" width="12.2" height="2.1" fill="#a5552a"/>
<rect x="57.75" y="241.7" width="12.2" height="4.1" fill="#fdf632"/>
<rect x="57.75" y="245.8" width="12.2" height="75.6" fill="#fd8003"/>
<rect x="57.75" y="321.4" width="12.2" height="5" fill="#994fa4"/>
<rect x="57.75" y="326.4" width="12.2" height="1.8" fill="#387eb9"/>
<rect x="57.75" y="328.2" width="12.2" height="1.6" fill="#e31b1d"/>
<text x="0" y="0" transform="translate(67.35,333.8) rotate(-69)" text-anchor="end" font-size="7.9" font-weight="bold" fill="#111">EB1</text>
<rect x="73.15" y="186.05" width="11.3" height="76.2" fill="#fff" stroke="#2ad2dc" stroke-width="0.9"/>
<rect x="72.7" y="262.7" width="12.2" height="4.4" fill="#9a9a9a"/>
<rect x="72.7" y="267.1" width="12.2" height="2.2" fill="#f282c0"/>
<rect x="72.7" y="269.3" width="12.2" height="5" fill="#a5552a"/>
<rect x="72.7" y="274.3" width="12.2" height="3.8" fill="#fdf632"/>
<rect x="72.7" y="278.1" width="12.2" height="47.7" fill="#fd8003"/>
<rect x="72.7" y="325.8" width="12.2" height="4" fill="#387eb9"/>
<text x="0" y="0" transform="translate(82.3,333.8) rotate(-69)" text-anchor="end" font-size="7.9" font-weight="bold" fill="#111">KZB1</text>
<rect x="88.1" y="186.05" width="11.3" height="34.5" fill="#fff" stroke="#2ad2dc" stroke-width="0.9"/>
<rect x="87.65" y="221" width="12.2" height="4.2" fill="#e5ba1d"/>
<rect x="87.65" y="225.2" width="12.2" height="2" fill="#fdf632"/>
<rect x="87.65" y="227.2" width="12.2" height="17.6" fill="#fd8003"/>
<rect x="87.65" y="244.8" width="12.2" height="82.7" fill="#994fa4"/>
<rect x="87.65" y="327.5" width="12.2" height="2.3" fill="#4eae4b"/>
<text x="0" y="0" transform="translate(97.25,333.8) rotate(-69)" text-anchor="end" font-size="7.9" font-weight="bold" fill="#111">KZB3</text>
<rect x="103.05" y="186.05" width="11.3" height="9.2" fill="#fff" stroke="#2ad2dc" stroke-width="0.9"/>
<rect x="102.6" y="195.7" width="12.2" height="8.9" fill="#e5ba1d"/>
<rect x="102.6" y="204.6" width="12.2" height="1" fill="#f282c0"/>
<rect x="102.6" y="205.6" width="12.2" height="6.2" fill="#a5552a"/>
<rect x="102.6" y="211.8" width="12.2" height="2" fill="#fdf632"/>
<rect x="102.6" y="213.8" width="12.2" height="4.2" fill="#fd8003"/>
<rect x="102.6" y="218" width="12.2" height="19.5" fill="#994fa4"/>
<rect x="102.6" y="237.5" width="12.2" height="4.2" fill="#4eae4b"/>
<rect x="102.6" y="241.7" width="12.2" height="12.3" fill="#387eb9"/>
<rect x="102.6" y="254" width="12.2" height="75.8" fill="#e31b1d"/>
<text x="0" y="0" transform="translate(112.2,333.8) rotate(-69)" text-anchor="end" font-size="7.9" font-weight="bold" fill="#111">BP_c</text>
<rect x="118" y="186.05" width="11.3" height="11.3" fill="#fff" stroke="#2ad2dc" stroke-width="0.9"/>
<rect x="117.55" y="197.8" width="12.2" height="13" fill="#e5ba1d"/>
<rect x="117.55" y="210.8" width="12.2" height="1.4" fill="#f282c0"/>
<rect x="117.55" y="212.2" width="12.2" height="13" fill="#a5552a"/>
<rect x="117.55" y="225.2" width="12.2" height="3.5" fill="#fdf632"/>
<rect x="117.55" y="228.7" width="12.2" height="4.7" fill="#fd8003"/>
<rect x="117.55" y="233.4" width="12.2" height="15.9" fill="#994fa4"/>
<rect x="117.55" y="249.3" width="12.2" height="17.1" fill="#4eae4b"/>
<rect x="117.55" y="266.4" width="12.2" height="58.5" fill="#387eb9"/>
<rect x="117.55" y="324.9" width="12.2" height="4.9" fill="#e31b1d"/>
<text x="0" y="0" transform="translate(127.15,333.8) rotate(-69)" text-anchor="end" font-size="7.9" font-weight="bold" fill="#111">BP_c</text>
<rect x="132.95" y="186.05" width="11.3" height="45.9" fill="#fff" stroke="#2ad2dc" stroke-width="0.9"/>
<rect x="132.5" y="232.4" width="12.2" height="9.3" fill="#9a9a9a"/>
<rect x="132.5" y="241.7" width="12.2" height="2" fill="#a5552a"/>
<rect x="132.5" y="243.7" width="12.2" height="40.3" fill="#fdf632"/>
<rect x="132.5" y="284" width="12.2" height="2.2" fill="#fd8003"/>
<rect x="132.5" y="286.2" width="12.2" height="12.8" fill="#994fa4"/>
<rect x="132.5" y="299" width="12.2" height="4.4" fill="#4eae4b"/>
<rect x="132.5" y="303.4" width="12.2" height="26.4" fill="#e31b1d"/>
<text x="0" y="0" transform="translate(142.1,333.8) rotate(-69)" text-anchor="end" font-size="7.9" font-weight="bold" fill="#111">KZB_b</text>
<rect x="147.9" y="186.05" width="11.3" height="17.5" fill="#fff" stroke="#2ad2dc" stroke-width="0.9"/>
<rect x="147.45" y="204" width="12.2" height="1.6" fill="#e5ba1d"/>
<rect x="147.45" y="205.6" width="12.2" height="1.7" fill="#fd8003"/>
<rect x="147.45" y="207.3" width="12.2" height="27.2" fill="#994fa4"/>
<rect x="147.45" y="234.5" width="12.2" height="5.1" fill="#4eae4b"/>
<rect x="147.45" y="239.6" width="12.2" height="90.2" fill="#e31b1d"/>
<text x="0" y="0" transform="translate(157.05,333.8) rotate(-69)" text-anchor="end" font-size="7.9" font-weight="bold" fill="#111">KZB_d</text>
<rect x="162.85" y="186.05" width="11.3" height="11.9" fill="#fff" stroke="#2ad2dc" stroke-width="0.9"/>
<rect x="162.4" y="198.4" width="12.2" height="131.4" fill="#e31b1d"/>
<text x="0" y="0" transform="translate(172,333.8) rotate(-69)" text-anchor="end" font-size="7.9" font-weight="bold" fill="#111">KZB_c</text>
<rect x="177.8" y="186.05" width="11.3" height="59.9" fill="#fff" stroke="#2ad2dc" stroke-width="0.9"/>
<rect x="177.35" y="246.4" width="12.2" height="1.8" fill="#f282c0"/>
<rect x="177.35" y="248.2" width="12.2" height="2.2" fill="#fdf632"/>
<rect x="177.35" y="250.4" width="12.2" height="8.2" fill="#fd8003"/>
<rect x="177.35" y="258.6" width="12.2" height="3.3" fill="#4eae4b"/>
<rect x="177.35" y="261.9" width="12.2" height="1.9" fill="#387eb9"/>
<rect x="177.35" y="263.8" width="12.2" height="66" fill="#e31b1d"/>
<text x="0" y="0" transform="translate(186.95,333.8) rotate(-69)" text-anchor="end" font-size="7.9" font-weight="bold" fill="#111">EB_a</text>
<text x="24.2" y="334.6" text-anchor="end" font-size="8.0" font-weight="bold" fill="#111">0</text>
<line x1="23.8" y1="331.2" x2="25.4" y2="331.2" stroke="#555" stroke-width="0.6"/>
<text x="24.2" y="298.3" text-anchor="end" font-size="8.0" font-weight="bold" fill="#111">25</text>
<line x1="23.8" y1="294.9" x2="25.4" y2="294.9" stroke="#555" stroke-width="0.6"/>
<text x="24.2" y="262" text-anchor="end" font-size="8.0" font-weight="bold" fill="#111">50</text>
<line x1="23.8" y1="258.6" x2="25.4" y2="258.6" stroke="#555" stroke-width="0.6"/>
<text x="24.2" y="225.7" text-anchor="end" font-size="8.0" font-weight="bold" fill="#111">75</text>
<line x1="23.8" y1="222.3" x2="25.4" y2="222.3" stroke="#555" stroke-width="0.6"/>
<text x="24.2" y="189.4" text-anchor="end" font-size="8.0" font-weight="bold" fill="#111">100</text>
<line x1="23.8" y1="186" x2="25.4" y2="186" stroke="#555" stroke-width="0.6"/>
<text x="0" y="0" transform="translate(9.2,257.3) rotate(-90) scale(1,0.86)" text-anchor="middle" font-size="7.8" font-weight="bold" fill="#111" style="stroke-width:0.24px">Relative Abundance(%)</text>
<rect x="195.45" y="186.45" width="10.9" height="10.9" fill="#fff" stroke="#2ad2dc" stroke-width="0.9"/>
<text x="0" y="0" transform="translate(212.6,195.15) scale(1.0,1)" font-size="7.75" font-weight="bold" fill="#111">Others</text>
<rect x="195" y="199.26" width="11.8" height="11.8" fill="#e5ba1d"/>
<text x="0" y="0" transform="translate(212.6,208.41) scale(1.0,1)" font-size="7.75" font-weight="bold" fill="#111">Iridaceae</text>
<rect x="195" y="212.52" width="11.8" height="11.8" fill="#9a9a9a"/>
<text x="0" y="0" transform="translate(212.6,221.67) scale(1.0,1)" font-size="7.75" font-weight="bold" fill="#111">Cyperaceae</text>
<rect x="195" y="225.78" width="11.8" height="11.8" fill="#f282c0"/>
<text x="0" y="0" transform="translate(212.6,234.93) scale(1.0,1)" font-size="7.75" font-weight="bold" fill="#111">Magnoliaceae</text>
<rect x="195" y="239.04" width="11.8" height="11.8" fill="#a5552a"/>
<text x="0" y="0" transform="translate(212.6,248.19) scale(1.0,1)" font-size="7.75" font-weight="bold" fill="#111">Juglandaceae</text>
<rect x="195" y="252.3" width="11.8" height="11.8" fill="#fdf632"/>
<text x="0" y="0" transform="translate(212.6,261.45) scale(1.0,1)" font-size="7.75" font-weight="bold" fill="#111">Musacese</text>
<rect x="195" y="265.56" width="11.8" height="11.8" fill="#fd8003"/>
<text x="0" y="0" transform="translate(212.6,274.71) scale(1.0,1)" font-size="7.75" font-weight="bold" fill="#111">Rosaceae</text>
<rect x="195" y="278.82" width="11.8" height="11.8" fill="#994fa4"/>
<text x="0" y="0" transform="translate(212.6,287.97) scale(1.0,1)" font-size="7.75" font-weight="bold" fill="#111">Poaceae</text>
<rect x="195" y="292.08" width="11.8" height="11.8" fill="#4eae4b"/>
<text x="0" y="0" transform="translate(212.6,301.23) scale(1.0,1)" font-size="7.75" font-weight="bold" fill="#111">Rubiaceae</text>
<rect x="195" y="305.34" width="11.8" height="11.8" fill="#387eb9"/>
<text x="0" y="0" transform="translate(212.6,314.49) scale(1.0,1)" font-size="7.75" font-weight="bold" fill="#111">Lauraceae</text>
<rect x="195" y="318.6" width="11.8" height="11.8" fill="#e31b1d"/>
<text x="0" y="0" transform="translate(212.6,327.75) scale(1.0,1)" font-size="7.75" font-weight="bold" fill="#111">Brassicaceae</text>
<rect x="36" y="203.2" width="0.9" height="0.9" fill="#3fd6de"/>
<rect x="69.3" y="209.5" width="0.9" height="0.9" fill="#3fd6de"/>
<rect x="69.3" y="212" width="0.9" height="0.9" fill="#3fd6de"/>
<rect x="83.8" y="209" width="0.9" height="0.9" fill="#3fd6de"/>
<rect x="83.8" y="229.5" width="0.9" height="0.9" fill="#3fd6de"/>
<rect x="74.4" y="240" width="0.9" height="0.9" fill="#3fd6de"/>
<rect x="83.8" y="246" width="0.9" height="0.9" fill="#3fd6de"/>
<rect x="98.6" y="206" width="0.9" height="0.9" fill="#3fd6de"/>
<rect x="98.6" y="211.5" width="0.9" height="0.9" fill="#3fd6de"/>
<rect x="98.6" y="216.5" width="0.9" height="0.9" fill="#3fd6de"/>
<rect x="113.8" y="189.5" width="0.9" height="0.9" fill="#3fd6de"/>
<rect x="130" y="190.5" width="0.9" height="0.9" fill="#3fd6de"/>
<rect x="144" y="229.5" width="0.9" height="0.9" fill="#3fd6de"/>
<rect x="158.5" y="195" width="0.9" height="0.9" fill="#3fd6de"/>
<rect x="188.6" y="200" width="0.9" height="0.9" fill="#3fd6de"/>
<rect x="188.6" y="221" width="0.9" height="0.9" fill="#3fd6de"/>
<rect x="52" y="193.5" width="0.9" height="0.9" fill="#3fd6de"/>
<text x="212.3" y="342" font-size="11.2" font-weight="bold" fill="#111">C</text>
<rect x="313.6" y="184.7" width="161.6" height="146.6" fill="none" stroke="#d0d0d0" stroke-width="0.75"/>
<rect x="315.95" y="186" width="11.65" height="11" fill="#6c9fd4"/>
<rect x="315.95" y="197" width="11.65" height="6" fill="#fe6a02"/>
<rect x="315.95" y="203" width="11.65" height="2.8" fill="#7e4c4e"/>
<rect x="315.95" y="205.8" width="11.65" height="10.1" fill="#12cdcc"/>
<rect x="315.95" y="215.9" width="11.65" height="1.7" fill="#d09b0c"/>
<rect x="315.95" y="217.6" width="11.65" height="17.9" fill="#1f6de0"/>
<rect x="315.95" y="235.5" width="11.65" height="94.3" fill="#ef4144"/>
<text x="0" y="0" transform="translate(324.57,333.8) rotate(-69)" text-anchor="end" font-size="7.9" font-weight="bold" fill="#111">BP1</text>
<rect x="330.47" y="186" width="11.65" height="19.6" fill="#6c9fd4"/>
<rect x="330.47" y="205.6" width="11.65" height="5.2" fill="#7e4c4e"/>
<rect x="330.47" y="210.8" width="11.65" height="11.3" fill="#12cdcc"/>
<rect x="330.47" y="222.1" width="11.65" height="2.5" fill="#d09b0c"/>
<rect x="330.47" y="224.6" width="11.65" height="18.5" fill="#1f6de0"/>
<rect x="330.47" y="243.1" width="11.65" height="86.7" fill="#ef4144"/>
<text x="0" y="0" transform="translate(339.09,333.8) rotate(-69)" text-anchor="end" font-size="7.9" font-weight="bold" fill="#111">BP2</text>
<rect x="344.99" y="186" width="11.65" height="61.8" fill="#6c9fd4"/>
<rect x="344.99" y="247.8" width="11.65" height="1.5" fill="#d09b0c"/>
<rect x="344.99" y="249.3" width="11.65" height="5.3" fill="#878a05"/>
<rect x="344.99" y="254.6" width="11.65" height="4.4" fill="#7e4c4e"/>
<rect x="344.99" y="259" width="11.65" height="3.7" fill="#12cdcc"/>
<rect x="344.99" y="262.7" width="11.65" height="53.4" fill="#d09b0c"/>
<rect x="344.99" y="316.1" width="11.65" height="3.7" fill="#3ab070"/>
<rect x="344.99" y="319.8" width="11.65" height="7.7" fill="#1f6de0"/>
<rect x="344.99" y="327.5" width="11.65" height="2.3" fill="#ef4144"/>
<text x="0" y="0" transform="translate(353.62,333.8) rotate(-69)" text-anchor="end" font-size="7.9" font-weight="bold" fill="#111">EB1</text>
<rect x="359.51" y="186" width="11.65" height="49.5" fill="#6c9fd4"/>
<rect x="359.51" y="235.5" width="11.65" height="38.2" fill="#fe6a02"/>
<rect x="359.51" y="273.7" width="11.65" height="29.2" fill="#878a05"/>
<rect x="359.51" y="302.9" width="11.65" height="9.2" fill="#d09b0c"/>
<rect x="359.51" y="312.1" width="11.65" height="2.7" fill="#b27de6"/>
<rect x="359.51" y="314.8" width="11.65" height="8.3" fill="#3ab070"/>
<rect x="359.51" y="323.1" width="11.65" height="6.7" fill="#ef4144"/>
<text x="0" y="0" transform="translate(368.13,333.8) rotate(-69)" text-anchor="end" font-size="7.9" font-weight="bold" fill="#111">KZB1</text>
<rect x="374.03" y="186" width="11.65" height="48.5" fill="#6c9fd4"/>
<rect x="374.03" y="234.5" width="11.65" height="32.6" fill="#fe6a02"/>
<rect x="374.03" y="267.1" width="11.65" height="27.5" fill="#878a05"/>
<rect x="374.03" y="294.6" width="11.65" height="13.1" fill="#7e4c4e"/>
<rect x="374.03" y="307.7" width="11.65" height="12.1" fill="#12cdcc"/>
<rect x="374.03" y="319.8" width="11.65" height="2.2" fill="#ef4144"/>
<rect x="374.03" y="322" width="11.65" height="7.8" fill="#4e4e4e"/>
<text x="0" y="0" transform="translate(382.65,333.8) rotate(-69)" text-anchor="end" font-size="7.9" font-weight="bold" fill="#111">KZB3</text>
<rect x="388.55" y="186" width="11.65" height="42.3" fill="#6c9fd4"/>
<rect x="388.55" y="228.3" width="11.65" height="27.8" fill="#12cdcc"/>
<rect x="388.55" y="256.1" width="11.65" height="4.4" fill="#d09b0c"/>
<rect x="388.55" y="260.5" width="11.65" height="20.4" fill="#3ab070"/>
<rect x="388.55" y="280.9" width="11.65" height="34.5" fill="#ef4144"/>
<rect x="388.55" y="315.4" width="11.65" height="14.4" fill="#4e4e4e"/>
<text x="0" y="0" transform="translate(397.17,333.8) rotate(-69)" text-anchor="end" font-size="7.9" font-weight="bold" fill="#111">BP_c</text>
<rect x="403.07" y="186" width="11.65" height="14.5" fill="#6c9fd4"/>
<rect x="403.07" y="200.5" width="11.65" height="2.6" fill="#fe6a02"/>
<rect x="403.07" y="203.1" width="11.65" height="1.5" fill="#d09b0c"/>
<rect x="403.07" y="204.6" width="11.65" height="15.4" fill="#12cdcc"/>
<rect x="403.07" y="220" width="11.65" height="2.1" fill="#fe6a02"/>
<rect x="403.07" y="222.1" width="11.65" height="16.1" fill="#3ab070"/>
<rect x="403.07" y="238.2" width="11.65" height="2" fill="#1f6de0"/>
<rect x="403.07" y="240.2" width="11.65" height="68" fill="#ef4144"/>
<rect x="403.07" y="308.2" width="11.65" height="21.6" fill="#4e4e4e"/>
<text x="0" y="0" transform="translate(411.69,333.8) rotate(-69)" text-anchor="end" font-size="7.9" font-weight="bold" fill="#111">BP_c</text>
<rect x="417.59" y="186" width="11.65" height="63.3" fill="#6c9fd4"/>
<rect x="417.59" y="249.3" width="11.65" height="1.5" fill="#d09b0c"/>
<rect x="417.59" y="250.8" width="11.65" height="1.2" fill="#7e4c4e"/>
<rect x="417.59" y="252" width="11.65" height="1.4" fill="#12cdcc"/>
<rect x="417.59" y="253.4" width="11.65" height="13.7" fill="#d09b0c"/>
<rect x="417.59" y="267.1" width="11.65" height="2.2" fill="#3ab070"/>
<rect x="417.59" y="269.3" width="11.65" height="54.9" fill="#1f6de0"/>
<rect x="417.59" y="324.2" width="11.65" height="1.6" fill="#ef4144"/>
<rect x="417.59" y="325.8" width="11.65" height="4" fill="#4e4e4e"/>
<text x="0" y="0" transform="translate(426.21,333.8) rotate(-69)" text-anchor="end" font-size="7.9" font-weight="bold" fill="#111">KZB_b</text>
<rect x="432.11" y="186" width="11.65" height="16.5" fill="#6c9fd4"/>
<rect x="432.11" y="202.5" width="11.65" height="1.5" fill="#878a05"/>
<rect x="432.11" y="204" width="11.65" height="83.5" fill="#7e4c4e"/>
<rect x="432.11" y="287.5" width="11.65" height="9.3" fill="#12cdcc"/>
<rect x="432.11" y="296.8" width="11.65" height="4.8" fill="#3ab070"/>
<rect x="432.11" y="301.6" width="11.65" height="3.9" fill="#ef4144"/>
<rect x="432.11" y="305.5" width="11.65" height="24.3" fill="#4e4e4e"/>
<text x="0" y="0" transform="translate(440.74,333.8) rotate(-69)" text-anchor="end" font-size="7.9" font-weight="bold" fill="#111">KZB_d</text>
<rect x="446.63" y="186" width="11.65" height="75.6" fill="#6c9fd4"/>
<rect x="446.63" y="261.6" width="11.65" height="1.8" fill="#878a05"/>
<rect x="446.63" y="263.4" width="11.65" height="66.4" fill="#7e4c4e"/>
<text x="0" y="0" transform="translate(455.25,333.8) rotate(-69)" text-anchor="end" font-size="7.9" font-weight="bold" fill="#111">KZB_c</text>
<rect x="461.15" y="186" width="11.65" height="43.3" fill="#6c9fd4"/>
<rect x="461.15" y="229.3" width="11.65" height="26.8" fill="#fe6a02"/>
<rect x="461.15" y="256.1" width="11.65" height="51.6" fill="#878a05"/>
<rect x="461.15" y="307.7" width="11.65" height="8.8" fill="#7e4c4e"/>
<rect x="461.15" y="316.5" width="11.65" height="2.7" fill="#d09b0c"/>
<rect x="461.15" y="319.2" width="11.65" height="1.7" fill="#b27de6"/>
<rect x="461.15" y="320.9" width="11.65" height="2.2" fill="#1f6de0"/>
<rect x="461.15" y="323.1" width="11.65" height="6.7" fill="#4e4e4e"/>
<text x="0" y="0" transform="translate(469.77,333.8) rotate(-69)" text-anchor="end" font-size="7.9" font-weight="bold" fill="#111">EB_a</text>
<text x="311.2" y="332.8" text-anchor="end" font-size="8.0" font-weight="bold" fill="#111">0</text>
<line x1="312" y1="329.4" x2="313.6" y2="329.4" stroke="#555" stroke-width="0.6"/>
<text x="311.2" y="296.95" text-anchor="end" font-size="8.0" font-weight="bold" fill="#111">25</text>
<line x1="312" y1="293.55" x2="313.6" y2="293.55" stroke="#555" stroke-width="0.6"/>
<text x="311.2" y="261.1" text-anchor="end" font-size="8.0" font-weight="bold" fill="#111">50</text>
<line x1="312" y1="257.7" x2="313.6" y2="257.7" stroke="#555" stroke-width="0.6"/>
<text x="311.2" y="225.25" text-anchor="end" font-size="8.0" font-weight="bold" fill="#111">75</text>
<line x1="312" y1="221.85" x2="313.6" y2="221.85" stroke="#555" stroke-width="0.6"/>
<text x="311.2" y="189.4" text-anchor="end" font-size="8.0" font-weight="bold" fill="#111">100</text>
<line x1="312" y1="186" x2="313.6" y2="186" stroke="#555" stroke-width="0.6"/>
<text x="0" y="0" transform="translate(295.1,258.4) rotate(-90) scale(1,0.86)" text-anchor="middle" font-size="7.9" font-weight="bold" fill="#111" style="stroke-width:0.24px">Relative Abundance(%)</text>
<rect x="478.2" y="186" width="11.9" height="11.8" fill="#6c9fd4"/>
<text x="0" y="0" transform="translate(495.2,195.15) scale(1.0,1)" font-size="7.75" font-weight="bold" fill="#111">Others</text>
<rect x="478.2" y="199.27" width="11.9" height="11.8" fill="#fe6a02"/>
<text x="0" y="0" transform="translate(495.6,208.42) scale(1.0,1)" font-size="7.75" font-weight="bold" font-style="italic" style="stroke-width:0.15px" fill="#111">Monochoria</text>
<rect x="478.2" y="212.54" width="11.9" height="11.8" fill="#878a05"/>
<text x="0" y="0" transform="translate(495.6,221.69) scale(1.0,1)" font-size="7.75" font-weight="bold" font-style="italic" style="stroke-width:0.15px" fill="#111">Daphniphyllum</text>
<rect x="478.2" y="225.81" width="11.9" height="11.8" fill="#7e4c4e"/>
<text x="0" y="0" transform="translate(495.6,234.96) scale(1.0,1)" font-size="7.75" font-weight="bold" font-style="italic" style="stroke-width:0.15px" fill="#111">Eurya</text>
<rect x="478.2" y="239.08" width="11.9" height="11.8" fill="#12cdcc"/>
<text x="0" y="0" transform="translate(495.6,248.23) scale(1.0,1)" font-size="7.75" font-weight="bold" font-style="italic" style="stroke-width:0.15px" fill="#111">Gladiolus</text>
<rect x="478.2" y="252.35" width="11.9" height="11.8" fill="#d09b0c"/>
<text x="0" y="0" transform="translate(495.6,261.5) scale(1.0,1)" font-size="7.75" font-weight="bold" font-style="italic" style="stroke-width:0.15px" fill="#111">Carex</text>
<rect x="478.2" y="265.62" width="11.9" height="11.8" fill="#b27de6"/>
<text x="0" y="0" transform="translate(495.6,274.77) scale(1.0,1)" font-size="7.75" font-weight="bold" font-style="italic" style="stroke-width:0.15px" fill="#111">Magnolia</text>
<rect x="478.2" y="278.89" width="11.9" height="11.8" fill="#3ab070"/>
<text x="0" y="0" transform="translate(495.6,288.04) scale(1.0,1)" font-size="7.75" font-weight="bold" font-style="italic" style="stroke-width:0.15px" fill="#111">Carya</text>
<rect x="478.2" y="292.16" width="11.9" height="11.8" fill="#1f6de0"/>
<text x="0" y="0" transform="translate(495.6,301.31) scale(1.0,1)" font-size="7.75" font-weight="bold" font-style="italic" style="stroke-width:0.15px" fill="#111">Musa</text>
<rect x="478.2" y="305.43" width="11.9" height="11.8" fill="#ef4144"/>
<text x="0" y="0" transform="translate(495.6,314.58) scale(1.0,1)" font-size="7.75" font-weight="bold" font-style="italic" style="stroke-width:0.15px" fill="#111">Rubus</text>
<rect x="478.2" y="318.7" width="11.9" height="11.8" fill="#4e4e4e"/>
<text x="0" y="0" transform="translate(495.6,327.85) scale(1.0,1)" font-size="7.75" font-weight="bold" font-style="italic" style="stroke-width:0.15px" fill="#111">Morinda</text>
<text x="495.2" y="341.6" font-size="11.0" font-weight="bold" fill="#111">D</text>
</g>
</svg>
</body></html>
